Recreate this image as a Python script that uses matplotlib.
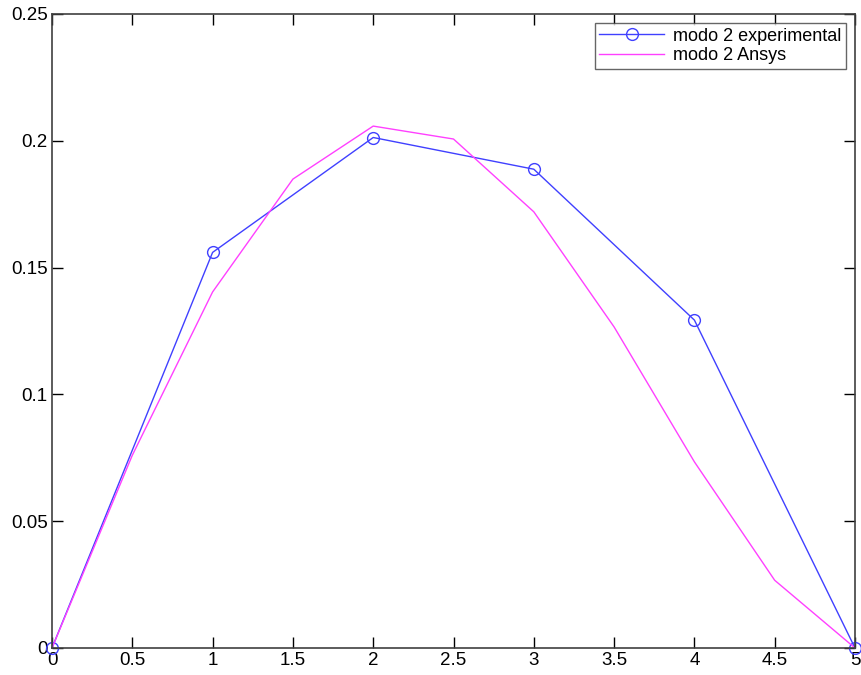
import numpy as np
import matplotlib.pyplot as plt

plt.rcParams['font.family'] = ['Liberation Sans', 'DejaVu Sans']

x_exp = [0, 1, 2, 3, 4, 5]
y_exp = [0, 0.156, 0.2013, 0.1888, 0.1293, 0]

x_ansys = [0, 0.5, 1, 1.5, 2, 2.5, 3, 3.5, 4, 4.5, 5]
y_ansys = [0, 0.076, 0.1404, 0.1849, 0.2058, 0.2007, 0.172, 0.1266, 0.0734, 0.0267, 0]

fig = plt.figure(figsize=(8.61, 6.75), dpi=100)
ax = fig.add_axes([52/861, 1 - 648/675, (855-52)/861, (648-14)/675])

ax.plot(x_exp, y_exp, color='#4040ff', lw=1, marker='o', ms=8.5,
        mfc='none', mec='#4040ff', mew=1, label='modo 2 experimental', clip_on=False)
ax.plot(x_ansys, y_ansys, color='#ff40ff', lw=1, label='modo 2 Ansys')

ax.set_xlim(0, 5)
ax.set_ylim(0, 0.25)
ax.set_xticks(np.arange(0, 5.01, 0.5))
ax.set_xticklabels(['0', '0.5', '1', '1.5', '2', '2.5', '3', '3.5', '4', '4.5', '5'])
ax.set_yticks([0, 0.05, 0.1, 0.15, 0.2, 0.25])
ax.set_yticklabels(['0', '0.05', '0.1', '0.15', '0.2', '0.25'])
ax.tick_params(direction='in', top=True, right=True, length=8, labelsize=13.5, width=1, pad=3)
for s in ax.spines.values():
    s.set_color('#404040')
    s.set_linewidth(1.2)

leg = ax.legend(loc='upper right', fontsize=13, frameon=True, fancybox=False,
                edgecolor='#404040', borderaxespad=0.5, handlelength=3.6,
                handletextpad=0.5, borderpad=0.25, labelspacing=0.15)
leg.get_frame().set_linewidth(1)

fig.savefig('out.png', dpi=100, facecolor='white')
